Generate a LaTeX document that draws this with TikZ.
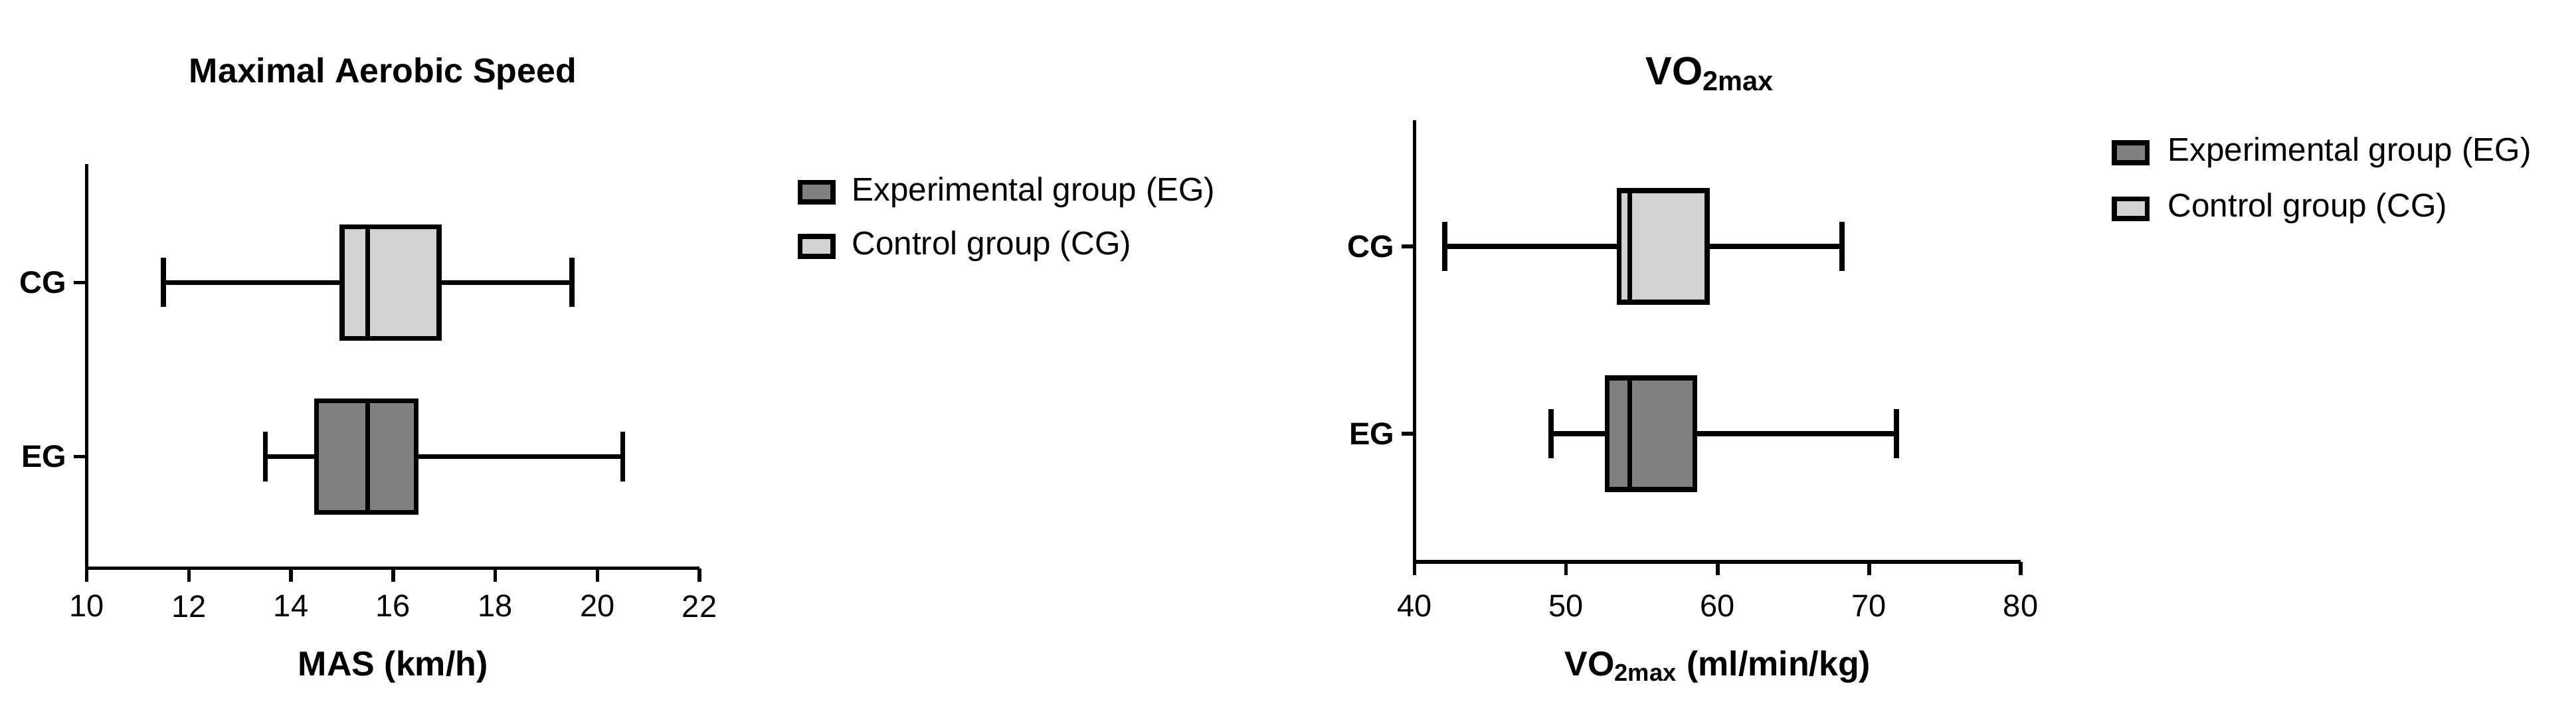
\documentclass[tikz,border=0pt]{standalone}
\usepackage{fontspec}
\setmainfont{Liberation Sans}
\usetikzlibrary{positioning}
\definecolor{egfill}{HTML}{808080}
\definecolor{cgfill}{HTML}{D3D3D3}
\tikzset{
  axis/.style={line width=2.2pt},
  whisk/.style={line width=3pt},
  bx/.style={line width=3pt},
  tick/.style={font=\fontsize{19}{19}\selectfont},
  grp/.style={font=\bfseries\fontsize{19}{19}\selectfont, anchor=east},
  ttl/.style={font=\bfseries\fontsize{21}{21}\selectfont},
  leg/.style={font=\fontsize{20}{20}\selectfont, anchor=west},
}
% y center, low whisker, q1, median, q3, high whisker, fill
\newcommand{\bxplot}[7]{%
  \draw[whisk] (#2,#1) -- (#3,#1) (#5,#1) -- (#6,#1);
  \draw[whisk] (#2,#1-15) -- (#2,#1+15) (#6,#1-15) -- (#6,#1+15);
  \draw[bx,fill=#7] (#3,#1-34) rectangle (#5,#1+34);
  \draw[bx] (#4,#1-34) -- (#4,#1+34);
}
\begin{document}
\begin{tikzpicture}[x=1pt,y=-1pt]
\useasboundingbox (0,0) rectangle (1568,428.2);
% left plot: maximal aerobic speed
\begin{scope}[shift={(-258,0)},x=31.08pt]
  \draw[axis] (10,100) -- (10,346) -- (22,346);
  \foreach \v in {10,12,...,22} {
    \draw[axis] (\v,346) -- (\v,354);
    \node[tick] (m\v) at (\v,369) {\v};
  }
  \draw[axis] (10,172) -- (9.75,172) node[grp] (mcg) {CG};
  \draw[axis] (10,278) -- (9.75,278) node[grp] (meg) {EG};
  \bxplot{172}{11.5}{15.0}{15.5}{16.9}{19.5}{cgfill}
  \bxplot{278}{13.5}{14.5}{15.5}{16.45}{20.5}{egfill}
  \node[ttl] (mtitle) at (15.8,45) {Maximal Aerobic Speed};
  \node[ttl] (mlabel) at (16,406) {MAS (km/h)};
\end{scope}
\draw[bx,fill=egfill] (487,111) rectangle (507,123);
\node[leg] (legeg1) at (515,117) {Experimental group (EG)};
\draw[bx,fill=cgfill] (487,144) rectangle (507,156);
\node[leg] (legcg1) at (515,150) {Control group (CG)};
% right plot: VO2max
\begin{scope}[shift={(492,0)},x=9.225pt]
  \draw[axis] (40,73) -- (40,342) -- (80,342);
  \foreach \v in {40,50,...,80} {
    \draw[axis] (\v,342) -- (\v,350);
    \node[tick] (v\v) at (\v,369) {\v};
  }
  \draw[axis] (40,150) -- (39.15,150) node[grp] (vcg) {CG};
  \draw[axis] (40,264) -- (39.15,264) node[grp] (veg) {EG};
  \bxplot{150}{42}{53.5}{54.2}{59.3}{68.2}{cgfill}
  \bxplot{264}{49}{52.7}{54.2}{58.5}{71.8}{egfill}
  \node[ttl,font=\bfseries\fontsize{24}{24}\selectfont] (vtitle) at (59.5,45) {VO\textsubscript{2max}};
  \node[ttl] (vlabel) at (60,406) {VO\textsubscript{2max} (ml/min/kg)};
\end{scope}
\draw[bx,fill=egfill] (1287,87) rectangle (1307,99);
\node[leg] (legeg2) at (1316,93) {Experimental group (EG)};
\draw[bx,fill=cgfill] (1287,121) rectangle (1307,133);
\node[leg] (legcg2) at (1316,127) {Control group (CG)};
\end{tikzpicture}
\end{document}
